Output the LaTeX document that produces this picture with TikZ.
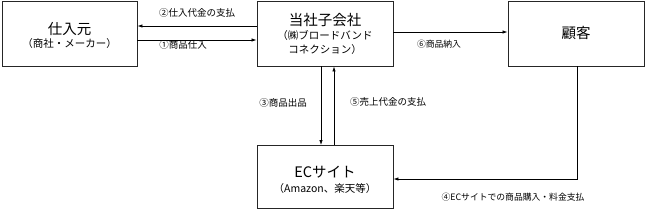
\documentclass[tikz,border=0pt]{standalone}
\usepackage{fontspec}
\setmainfont{Noto Sans CJK JP}
\usetikzlibrary{arrows.meta,calc}
\begin{document}
\begin{tikzpicture}[x=1pt,y=-1pt,
  box/.style={draw=black!85,line width=0.9pt,minimum height=65pt,minimum width=135pt,inner sep=0pt},
  ttl/.style={font=\fontsize{14.5}{15}\selectfont,inner sep=0pt},
  sbt/.style={font=\fontsize{10.5}{11}\selectfont,inner sep=0pt},
  arr/.style={line width=0.8pt,-{Latex[length=5pt,width=3.5pt]}},
  lbl/.style={font=\fontsize{9.5}{10}\selectfont,inner sep=0pt},
  slbl/.style={font=\fontsize{8.8}{10}\selectfont,inner sep=0pt}]
\useasboundingbox (0,0) rectangle (645,212);
\node[box] (b1) at (69.5,33.5) {};
\node[ttl] (b1t) at ($(b1.center)+(0,-5)$) {仕入元};
\node[sbt] (b1s) at ($(b1.center)+(0,10.5)$) {（商社・メーカー）};
\node[box,minimum width=136pt] (b2) at (325,33.5) {};
\node[ttl] (b2t) at ($(b2.center)+(0,-13)$) {当社子会社};
\node[sbt] (b2s) at ($(b2.center)+(0,2)$) {（㈱ブロードバンド};
\node[sbt] (b2u) at ($(b2.center)+(0,16.5)$) {コネクション）};
\node[box,minimum width=136pt] (b3) at (576,33.5) {};
\node[ttl] (b3t) at (b3.center) {顧客};
\node[box,minimum width=136pt,minimum height=63pt] (ec) at (325,177) {};
\node[ttl] (ect) at ($(ec.center)+(0,-5)$) {ECサイト};
\node[sbt] (ecs) at ($(ec.center)+(0,11.5)$) {（Amazon、楽天等）};
% arrows 1 and 2
\draw[arr] (b2.west |- 0,26) -- (b1.east |- 0,26);
\draw[arr] (b1.east |- 0,40) -- (b2.west |- 0,40);
\node[lbl] (l2) at (197,13) {②仕入代金の支払};
\node[lbl] (l1) at (183,45) {①商品仕入};
% arrow 6
\draw[arr] (b2.east |- 0,32) -- (b3.west |- 0,32);
\node[slbl] (l6) at (439,44) {⑥商品納入};
% arrows 3 and 5
\draw[arr] (321,0 |- b2.south) -- (321,0 |- ec.north);
\draw[arr] (334,0 |- ec.north) -- (334,0 |- b2.south);
\node[lbl] (l3) at (283,103) {③商品出品};
\node[lbl] (l5) at (388,102) {⑤売上代金の支払};
% arrow 4
\coordinate (c4) at (577,179);
\draw[arr] (b3.south -| c4) -- (c4) -- (ec.east |- c4);
\node[slbl] (l4) at (513,197) {④ECサイトでの商品購入・料金支払};
\end{tikzpicture}
\end{document}
